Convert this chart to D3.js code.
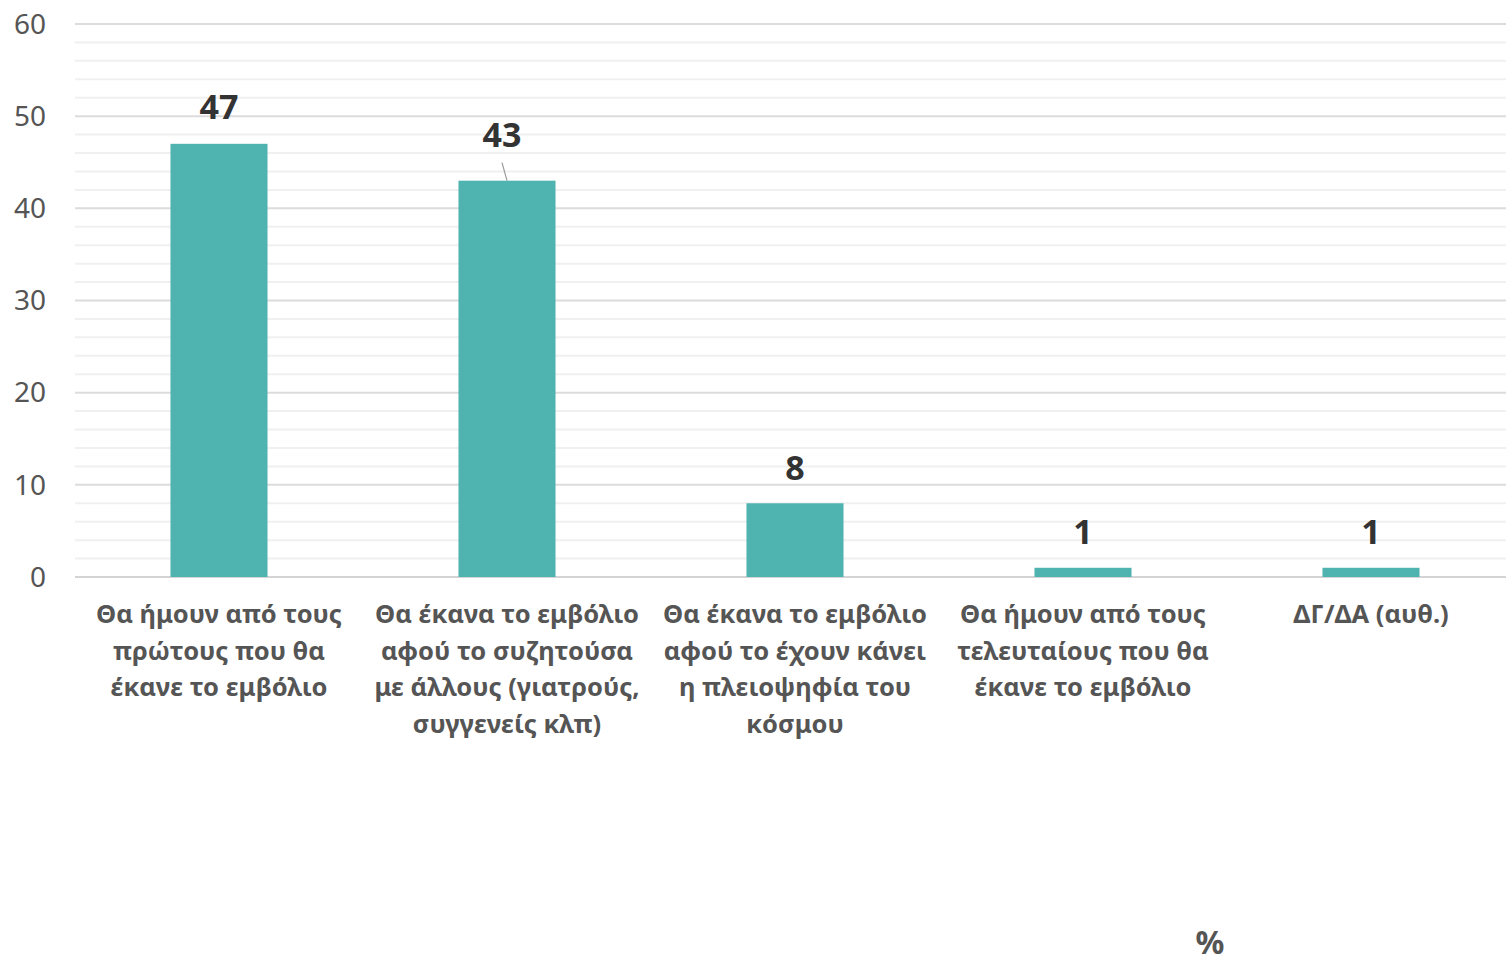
<!DOCTYPE html>
<html><head><meta charset="utf-8">
<script src="https://cdn.jsdelivr.net/npm/d3@7"></script>
<style>body{margin:0;background:#fff}svg{display:block}</style>
</head><body><svg id="c" width="1506" height="966"></svg>
<script>
const categories = [
  "Θα ήμουν από τους\nπρώτους που θα\nέκανε το εμβόλιο",
  "Θα έκανα το εμβόλιο\nαφού το συζητούσα\nμε άλλους (γιατρούς,\nσυγγενείς κλπ)",
  "Θα έκανα το εμβόλιο\nαφού το έχουν κάνει\nη πλειοψηφία του\nκόσμου",
  "Θα ήμουν από τους\nτελευταίους που θα\nέκανε το εμβόλιο",
  "ΔΓ/ΔΑ (αυθ.)"
];
const values = [47, 43, 8, 1, 1];
const yTicks = [0, 10, 20, 30, 40, 50, 60];
const unitLabel = "%";

(function() {
const svg = d3.select("#c");
const pl = 75, pr = 1515, pt = 24, pb = 577;
const x = d3.scaleBand().domain(d3.range(categories.length)).range([pl, pr]).paddingInner(0.663).paddingOuter(0.3315);
const y = d3.scaleLinear().domain([0, 60]).range([pb, pt]);
const font = "'Noto Sans', sans-serif";

svg.append("g").selectAll("line").data(d3.range(0, 61, 2).filter(v => v % 10 !== 0)).join("line")
  .attr("x1", pl).attr("x2", 1506).attr("y1", d => y(d)).attr("y2", d => y(d))
  .attr("stroke", "#f0f0f0").attr("stroke-width", 2);
svg.append("g").selectAll("line").data(yTicks).join("line")
  .attr("x1", pl).attr("x2", 1506).attr("y1", d => y(d)).attr("y2", d => y(d))
  .attr("stroke", d => d === 0 ? "#d4d4d4" : "#dcdcdc").attr("stroke-width", 2);

svg.append("g").selectAll("text").data(yTicks).join("text")
  .attr("x", 46).attr("y", d => y(d)).attr("dy", "0.35em")
  .attr("text-anchor", "end").attr("font-family", font).attr("font-size", 28)
  .attr("fill", "#555").text(d => d);

svg.append("g").selectAll("rect").data(values).join("rect")
  .attr("x", (d, i) => x(i)).attr("width", x.bandwidth())
  .attr("y", d => y(d)).attr("height", d => y(0) - y(d))
  .attr("fill", "#4fb3af");

const labelShift = [0, -5, 0, 0, 0];
const labelGap = [25, 34, 23, 24, 24];
svg.append("g").selectAll("text").data(values).join("text")
  .attr("x", (d, i) => x(i) + x.bandwidth() / 2 + labelShift[i])
  .attr("y", (d, i) => y(d) - labelGap[i])
  .attr("text-anchor", "middle").attr("font-family", font).attr("font-weight", 700)
  .attr("font-size", 34).attr("fill", "#333").text(d => d);
svg.append("line")
  .attr("x1", x(1) + x.bandwidth() / 2 - 5).attr("y1", y(values[1]) - 18)
  .attr("x2", x(1) + x.bandwidth() / 2).attr("y2", y(values[1]))
  .attr("stroke", "#999").attr("stroke-width", 1.2);

const cat = svg.append("g").selectAll("text").data(categories).join("text")
  .attr("x", (d, i) => x(i) + x.bandwidth() / 2).attr("y", 623)
  .attr("text-anchor", "middle").attr("font-family", font).attr("font-weight", 700)
  .attr("font-size", 25.5).attr("fill", "#555");
cat.each(function(d) {
  const t = d3.select(this);
  d.split("\n").forEach((line, k) => {
    t.append("tspan").attr("x", t.attr("x")).attr("dy", k === 0 ? 0 : 36.5).text(line);
  });
});

svg.append("text").attr("x", 1210).attr("y", 954).attr("text-anchor", "middle")
  .attr("font-family", font).attr("font-weight", 700).attr("font-size", 32)
  .attr("fill", "#555").text(unitLabel);
})();
</script></body></html>
